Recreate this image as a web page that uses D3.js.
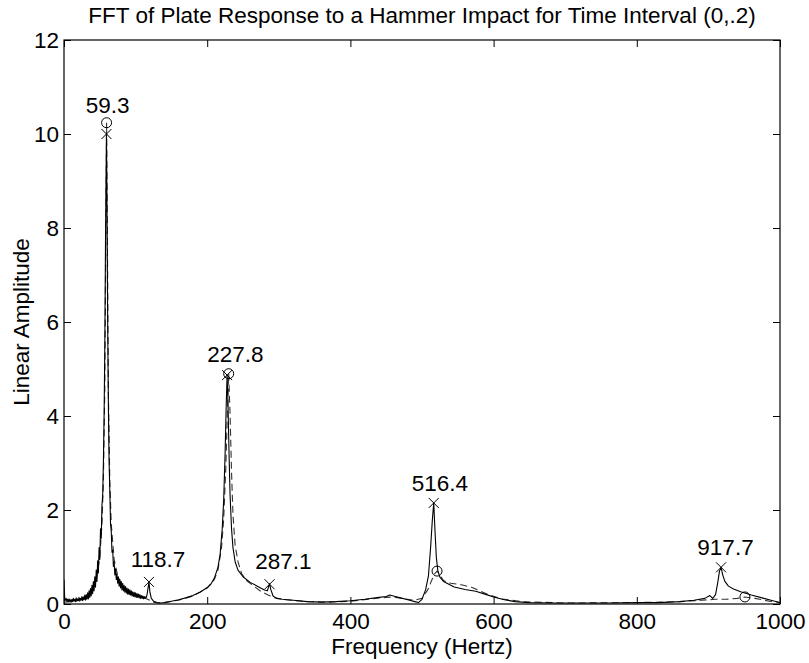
<!DOCTYPE html>
<html>
<head>
<meta charset="utf-8">
<script src="https://cdn.jsdelivr.net/npm/d3@7"></script>
<style>
  html, body { margin: 0; padding: 0; background: #fff; }
  svg { display: block; }
  text { font-family: "Liberation Sans", Arial, Helvetica, sans-serif; fill: #000; }
</style>
</head>
<body>
<svg id="chart" width="809" height="663"></svg>
<script>
// ---------------- data ----------------
const titleText = "FFT of Plate Response to a Hammer Impact for Time Interval (0,.2)";
const xLabelText = "Frequency (Hertz)";
const yLabelText = "Linear Amplitude";
const xTicks = [0, 200, 400, 600, 800, 1000];
const yTicks = [0, 2, 4, 6, 8, 10, 12];

// measured FFT (solid line)
const fftFreq = [
  0, 0.5, 1, 2, 3, 4, 5, 6, 7, 8, 9, 10, 11, 12, 13, 14, 15, 16, 17, 18, 19,
  20, 21, 22, 23, 24, 25, 26, 27, 28, 29, 30, 31, 32, 33, 34, 35, 36, 37, 38, 39,
  40, 41, 42, 43, 44, 45, 46, 47, 48, 49, 50, 51, 52, 53, 54, 55, 56, 57, 58, 59.3,
  60, 61, 62, 63, 64, 65, 66, 67, 68, 69, 70, 71, 72, 73, 74, 75, 76, 77, 78, 79,
  80, 81, 82, 83, 84, 85, 86, 87, 88, 89, 90, 91, 92, 93, 94, 95, 96, 97, 98, 99,
  100, 101, 102, 103, 104, 105, 106, 107, 108, 109, 110, 111, 112, 113, 114, 115, 116, 117, 118.7,
  120, 122, 125, 130, 135, 140, 150, 160, 170, 180, 190, 200, 205, 210, 215, 218, 221, 223, 225, 226.5, 227.8,
  229, 230.5, 232, 234, 236, 239, 243, 250, 260, 270, 280, 284, 287.1, 289, 292, 297, 305,
  320, 340, 360, 380, 400, 420, 440, 450, 455, 460, 470, 480, 490, 495, 500, 505, 509, 512, 514.5, 516.4,
  518, 520, 522, 525, 530, 545, 560, 575, 590, 600, 615, 630, 650, 680, 720, 760, 800, 830, 860, 880, 895,
  902, 906, 910, 913, 915.5, 917.7, 920, 923, 928, 935, 945, 960, 975, 990, 1000
];
const fftAmp = [
  0.52, 0.30, 0.12, 0.08, 0.12, 0.06, 0.10, 0.05, 0.11, 0.06, 0.09, 0.04, 0.10, 0.05, 0.12, 0.06, 0.10, 0.05, 0.13, 0.06, 0.11,
  0.07, 0.14, 0.06, 0.12, 0.08, 0.16, 0.07, 0.15, 0.09, 0.19, 0.08, 0.20, 0.10, 0.24, 0.11, 0.28, 0.14, 0.33, 0.17, 0.40,
  0.22, 0.48, 0.28, 0.58, 0.36, 0.72, 0.48, 0.92, 0.66, 1.20, 0.95, 1.60, 1.40, 2.10, 2.30, 3.00, 4.00, 5.50, 7.80, 10.00,
  8.60, 6.00, 4.20, 3.00, 2.40, 1.70, 1.55, 1.10, 1.15, 0.80, 0.90, 0.62, 0.75, 0.52, 0.64, 0.44, 0.58, 0.38, 0.52, 0.34,
  0.48, 0.30, 0.44, 0.28, 0.40, 0.25, 0.37, 0.23, 0.34, 0.21, 0.32, 0.20, 0.30, 0.19, 0.28, 0.17, 0.26, 0.16, 0.25, 0.15,
  0.24, 0.14, 0.22, 0.14, 0.21, 0.13, 0.20, 0.12, 0.18, 0.12, 0.17, 0.11, 0.16, 0.12, 0.15, 0.14, 0.20, 0.30, 0.47,
  0.25, 0.12, 0.06, 0.03, 0.02, 0.03, 0.06, 0.09, 0.13, 0.18, 0.25, 0.35, 0.42, 0.55, 0.78, 1.05, 1.60, 2.20, 3.20, 4.20, 4.87,
  4.30, 3.20, 2.30, 1.60, 1.20, 0.90, 0.72, 0.58, 0.46, 0.38, 0.30, 0.28, 0.43, 0.30, 0.17, 0.12, 0.10,
  0.08, 0.05, 0.04, 0.05, 0.07, 0.10, 0.14, 0.16, 0.19, 0.17, 0.13, 0.09, 0.05, 0.03, 0.10, 0.30, 0.60, 1.20, 1.80, 2.15,
  1.60, 1.00, 0.72, 0.57, 0.48, 0.36, 0.31, 0.27, 0.20, 0.15, 0.09, 0.05, 0.03, 0.02, 0.02, 0.02, 0.03, 0.03, 0.05, 0.08, 0.12,
  0.18, 0.12, 0.20, 0.45, 0.70, 0.78, 0.62, 0.48, 0.38, 0.32, 0.26, 0.19, 0.13, 0.07, 0.03
];

// curve fit (dashed line)
const fitFreq = [
  0, 10, 20, 30, 40, 45, 50, 53, 55, 57, 58.5, 59.5, 60.5, 62, 64, 66, 70, 75, 80, 90, 100, 110, 115, 120, 125, 130,
  140, 160, 180, 200, 210, 215, 220, 223, 226, 228, 230, 232, 234, 236, 239, 243, 248, 255, 265, 275, 285, 295, 310,
  340, 370, 400, 430, 450, 460, 475, 490, 500, 508, 514, 518, 521, 524, 530, 540, 555, 570, 590, 610, 640, 700,
  800, 860, 890, 910, 925, 940, 951, 965, 985, 1000
];
const fitAmp = [
  0.04, 0.05, 0.08, 0.14, 0.30, 0.50, 1.00, 1.70, 2.60, 4.60, 8.00, 10.24, 8.00, 4.50, 2.60, 1.70, 0.95, 0.60, 0.42, 0.26, 0.18, 0.13, 0.11, 0.08, 0.04, 0.02,
  0.03, 0.08, 0.17, 0.34, 0.52, 0.72, 1.20, 1.80, 2.90, 4.00, 4.90, 4.00, 2.80, 1.90, 1.25, 0.90, 0.65, 0.50, 0.38, 0.27, 0.19, 0.13, 0.09,
  0.05, 0.04, 0.06, 0.11, 0.14, 0.15, 0.11, 0.08, 0.12, 0.30, 0.52, 0.65, 0.70, 0.64, 0.50, 0.44, 0.41, 0.35, 0.22, 0.11, 0.05, 0.02,
  0.03, 0.05, 0.08, 0.10, 0.10, 0.12, 0.15, 0.12, 0.06, 0.03
];

// peak markers
const crossFreq = [59.3, 118.7, 227.8, 287.1, 516.4, 917.7];
const crossAmp  = [10.0, 0.47, 4.87, 0.42, 2.15, 0.78];
const circleFreq = [59.5, 230.0, 521.0, 951.0];
const circleAmp  = [10.24, 4.90, 0.70, 0.15];

// peak annotations (text position in data units)
const annotText = ["59.3", "118.7", "227.8", "287.1", "516.4", "917.7"];
const annotFreq = [60.8, 131.3, 239.5, 306.4, 525.0, 923.9];
const annotAmp  = [10.45, 0.79, 5.15, 0.745, 2.40, 1.04];

// ---------------- drawing ----------------
const plot = { left: 64, right: 780, top: 40, bottom: 604 };
const FONT = 22.5;

const svg = d3.select("#chart");
const x = d3.scaleLinear().domain([0, 1000]).range([plot.left, plot.right]);
const y = d3.scaleLinear().domain([0, 12]).range([plot.bottom, plot.top]);

const g = svg.append("g");

svg.append("defs").append("clipPath").attr("id", "clip")
  .append("rect")
  .attr("x", plot.left).attr("y", plot.top)
  .attr("width", plot.right - plot.left).attr("height", plot.bottom - plot.top);

// axes: inward ticks on all four sides
const tick = 7;
const xb = g.append("g").attr("transform", `translate(0,${plot.bottom})`)
  .call(d3.axisBottom(x).tickValues(xTicks).tickSize(-tick).tickPadding(9).tickFormat(d3.format("d")));
const xt = g.append("g").attr("transform", `translate(0,${plot.top})`)
  .call(d3.axisTop(x).tickValues(xTicks).tickSize(-tick).tickFormat(""));
const yl = g.append("g").attr("transform", `translate(${plot.left},0)`)
  .call(d3.axisLeft(y).tickValues(yTicks).tickSize(-tick).tickPadding(5).tickFormat(d3.format("d")));
const yr = g.append("g").attr("transform", `translate(${plot.right},0)`)
  .call(d3.axisRight(y).tickValues(yTicks).tickSize(-tick).tickFormat(""));

[xb, xt, yl, yr].forEach(a => {
  a.select(".domain").remove();
  a.selectAll(".tick line").attr("stroke", "#000").attr("stroke-width", 1);
  a.selectAll(".tick text")
    .attr("font-family", '"Liberation Sans", Arial, Helvetica, sans-serif')
    .attr("font-size", FONT).attr("fill", "#000");
});

// frame
g.append("rect")
  .attr("x", plot.left).attr("y", plot.top)
  .attr("width", plot.right - plot.left).attr("height", plot.bottom - plot.top)
  .attr("fill", "none").attr("stroke", "#000").attr("stroke-width", 1.2);

// curves
const line = d3.line().x(d => x(d[0])).y(d => y(d[1]));
const fitData = fitFreq.map((f, i) => [f, fitAmp[i]]);
const fftData = fftFreq.map((f, i) => [f, fftAmp[i]]);

g.append("path").datum(fitData)
  .attr("clip-path", "url(#clip)")
  .attr("d", line).attr("fill", "none")
  .attr("stroke", "#333").attr("stroke-width", 1.1)
  .attr("stroke-dasharray", "7,4");

g.append("path").datum(fftData)
  .attr("clip-path", "url(#clip)")
  .attr("d", line).attr("fill", "none")
  .attr("stroke", "#000").attr("stroke-width", 1.1)
  .attr("stroke-linejoin", "round");

// cross markers
const cs = 5;
g.append("g").selectAll("path")
  .data(crossFreq.map((f, i) => [f, crossAmp[i]]))
  .join("path")
  .attr("d", d => {
    const cx = x(d[0]), cy = y(d[1]);
    return `M${cx - cs},${cy - cs}L${cx + cs},${cy + cs}M${cx - cs},${cy + cs}L${cx + cs},${cy - cs}`;
  })
  .attr("stroke", "#000").attr("stroke-width", 1).attr("fill", "none");

// circle markers
g.append("g").selectAll("circle")
  .data(circleFreq.map((f, i) => [f, circleAmp[i]]))
  .join("circle")
  .attr("cx", d => x(d[0])).attr("cy", d => y(d[1]))
  .attr("r", 5)
  .attr("fill", "none").attr("stroke", "#000").attr("stroke-width", 1);

// annotations
g.append("g").selectAll("text")
  .data(annotText.map((t, i) => ({ t, f: annotFreq[i], a: annotAmp[i] })))
  .join("text")
  .attr("x", d => x(d.f)).attr("y", d => y(d.a))
  .attr("text-anchor", "middle")
  .attr("font-size", FONT)
  .text(d => d.t);

// title and axis labels
svg.append("text")
  .attr("x", (plot.left + plot.right) / 2).attr("y", 23)
  .attr("text-anchor", "middle").attr("font-size", FONT)
  .text(titleText);

svg.append("text")
  .attr("x", (plot.left + plot.right) / 2).attr("y", 654)
  .attr("text-anchor", "middle").attr("font-size", FONT)
  .text(xLabelText);

svg.append("text")
  .attr("transform", `translate(29,${(plot.top + plot.bottom) / 2}) rotate(-90)`)
  .attr("text-anchor", "middle").attr("font-size", FONT)
  .text(yLabelText);
</script>
</body>
</html>
